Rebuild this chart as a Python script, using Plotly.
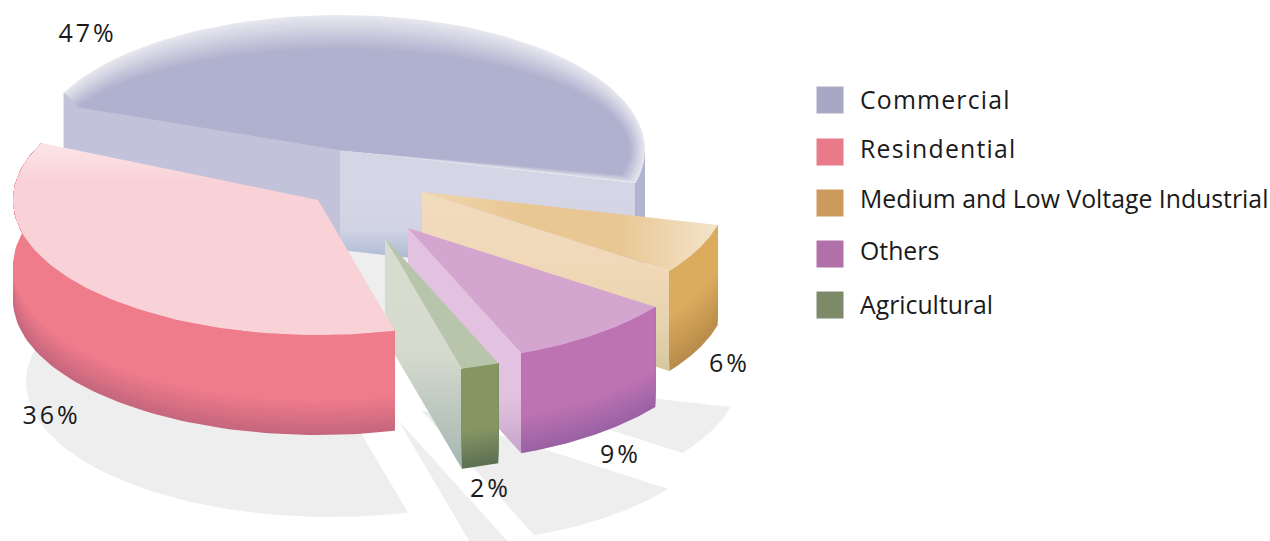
import numpy as np
import plotly.graph_objects as go

# ---------- data ----------
legend_labels = ["Commercial", "Resindential", "Medium and Low Voltage Industrial", "Others", "Agricultural"]
legend_colors = ["#a8a8c5", "#e87a8a", "#cd9a5d", "#b070a8", "#7d8a68"]
clockwise_names = ["Commercial", "Medium and Low Voltage Industrial", "Others", "Agricultural", "Resindential"]
clockwise_values = [47, 6, 9, 2, 36]
pct_labels = ["47%", "36%", "6%", "9%", "2%"]

# ---------- layout constants (pixel-scaled axes) ----------
W, H = 1270, 541
RX, RY, DEPTH = 305, 135, 100
START = 155
SHADOW = (13, 182)
APEX = {"Commercial": (340, 150), "Resindential": (318, 200),
        "Medium and Low Voltage Industrial": (422, 192), "Others": (408, 228), "Agricultural": (385, 238)}
legend_x, text_x = 830, 858
swatch_y = [100, 152, 203, 254, 305]
text_y = [99, 148, 198, 250, 304]
pct_x = [87, 51, 729, 620, 490]
pct_y = [32, 414, 362, 453, 487]
FONT = "Open Sans"

# angular spans derived from the values
spans = {}
a = START
for n, v in zip(clockwise_names, clockwise_values):
    spans[n] = (a, a - v * 3.6)
    a -= v * 3.6


def rim(apex, a0, a1, rx=RX, ry=RY, dy=0):
    t = np.radians(np.linspace(a0, a1, 80))
    return apex[0] + rx * np.cos(t), apex[1] - ry * np.sin(t) + dy


fig = go.Figure()


def poly(x, y, color=None, grad=None, kind="vertical"):
    kw = dict(x=list(x), y=list(y), mode="lines", fill="toself", line=dict(width=0),
              hoverinfo="skip", showlegend=False)
    if grad:
        g = grad[::-1] if kind == "vertical" else grad
        n = len(g) - 1
        kw["fillgradient"] = dict(type=kind, colorscale=[[i / n, c] for i, c in enumerate(g)])
    else:
        kw["fillcolor"] = color
    fig.add_trace(go.Scatter(**kw))


def mix(c0, c1, t):
    p = [int(c0[i:i + 2], 16) for i in (1, 3, 5)]
    q = [int(c1[i:i + 2], 16) for i in (1, 3, 5)]
    return "#%02x%02x%02x" % tuple(round(u + (w - u) * t) for u, w in zip(p, q))


def top(apex, a0, a1, color=None, grad=None, kind="vertical", glow=None, glow_k=0.25):
    if glow:
        steps = 14
        for i in range(steps + 1):
            k = i / steps
            x, y = rim(apex, a0, a1, RX * (1 - 0.05 * k), RY * (1 - glow_k * k))
            poly(np.r_[apex[0], x, apex[0]], np.r_[apex[1], y, apex[1]], mix(glow, color, k))
    else:
        x, y = rim(apex, a0, a1)
        poly(np.r_[apex[0], x, apex[0]], np.r_[apex[1], y, apex[1]], color, grad, kind)


def side_inner(apex, ang, grad):
    x, y = rim(apex, ang, ang)
    xe, ye = x[0], y[0]
    poly([apex[0], xe, xe, apex[0], apex[0]],
         [apex[1], ye, ye + DEPTH, apex[1] + DEPTH, apex[1]], None, grad)


def side_outer(apex, a0, a1, c_main, c_dark, band=34):
    lo, hi = min(a0, a1), max(a0, a1)
    # only the part of the rim below the horizon faces the viewer
    parts = []
    if hi > 180:
        parts.append((max(lo, 180), hi))
    elif hi <= 0:
        parts.append((lo, hi))
    else:
        if lo < 0:
            parts.append((lo, 0))
    for p0, p1 in parts:
        steps = 12
        for i in range(steps + 1):
            d = DEPTH - band * i / steps
            x, y = rim(apex, p0, p1)
            poly(np.r_[x, x[::-1], x[0]], np.r_[y, y[::-1] + d, y[0]], mix(c_dark, c_main, i / steps))


# shadows
for n in clockwise_names:
    ap = (APEX[n][0] + SHADOW[0], APEX[n][1] + SHADOW[1])
    x, y = rim(ap, *spans[n])
    poly(np.r_[ap[0], x, ap[0]], np.r_[ap[1], y, ap[1]], "#eeeeee")

# Commercial
n = "Commercial"; ap = APEX[n]; a0, a1 = spans[n]
side_inner(ap, a0, ["#c2c2da", "#c2c2da", "#c2c2da"])
side_inner(ap, a1, ["#d5d5e6", "#d5d5e6", "#d5d5e6", "#d0d3e3", "#b0bcd4", "#b0bcd4"])
side_outer(ap, a0, a1, "#b3b3d2", "#a9a9ca", band=10)
top(ap, a0, a1, color="#b0b0cf", glow="#e6e6ee")

# Medium and Low Voltage Industrial
n = clockwise_names[1]; ap = APEX[n]; a0, a1 = spans[n]
side_inner(ap, a1, ["#f1dbbd", "#f1dabb", "#efd7b6", "#e5d3ae", "#d4c89f"])
side_outer(ap, a0, a1, "#dcac5e", "#b98d4a", band=55)
top(ap, a0, a1, grad=["#f0d6ae", "#e9c793", "#e9c793", "#f3e4cc"], kind="horizontal")

# Others
n = "Others"; ap = APEX[n]; a0, a1 = spans[n]
side_inner(ap, a1, ["#e2c2e0", "#e2c2e0", "#e2c2e0", "#e2c2e0", "#c6a4c8"])
side_outer(ap, a0, a1, "#bd72b2", "#9a62a4", band=36)
top(ap, a0, a1, color="#d4a6cf")

# Agricultural
n = "Agricultural"; ap = APEX[n]; a0, a1 = spans[n]
side_inner(ap, a1, ["#d8dccf", "#d8dccf", "#d6dace", "#bcc8bf", "#a6b7b0"])
side_outer(ap, a0, a1, "#859663", "#5e7153", band=36)
top(ap, a0, a1, color="#b7c5ab")

# Resindential
n = "Resindential"; ap = APEX[n]; a0, a1 = spans[n]
side_outer(ap, a0, a1, "#ef7c8b", "#c6677e", band=34)
top(ap, a0, a1, grad=["#fbe5e6", "#f9d2d8", "#f9d2d8", "#f9d2d8", "#f9d2d8", "#f9d2d8"])

# legend swatches
fig.add_trace(go.Scatter(x=[legend_x] * 5, y=swatch_y, mode="markers", hoverinfo="skip", showlegend=False,
                         marker=dict(symbol="square", size=27, color=legend_colors, line=dict(width=0))))

annotations = []
for t, yy in zip(legend_labels, text_y):
    annotations.append(dict(x=text_x, y=yy, text=t, xanchor="left", yanchor="middle", showarrow=False,
                            font=dict(family=FONT, size=24.8, color="#1a1a1a")))
for t, xx, yy in zip(pct_labels, pct_x, pct_y):
    annotations.append(dict(x=xx, y=yy, text=t, xanchor="center", yanchor="middle", showarrow=False,
                            font=dict(family=FONT, size=25, color="#1a1a1a")))

fig.update_layout(width=W, height=H, autosize=False, margin=dict(l=0, r=0, t=0, b=0),
                  paper_bgcolor="white", plot_bgcolor="white", annotations=annotations,
                  xaxis=dict(range=[0, W], visible=False, fixedrange=True),
                  yaxis=dict(range=[H, 0], visible=False, fixedrange=True))

post = """
document.body.style.margin = '0';
document.documentElement.style.overflow = 'hidden';
var wide = {'Commercial':1.2,'Resindential':1.2};
document.querySelectorAll('.annotation-text').forEach(function(e){
  var t = e.textContent;
  if (wide[t]) {
    var w0 = e.getComputedTextLength();
    e.style.letterSpacing = wide[t] + 'px';
    var w1 = e.getComputedTextLength();
    e.setAttribute('x', parseFloat(e.getAttribute('x')) + (w1 - w0) / 2);
  }
  if (t.indexOf('%') >= 0) e.style.letterSpacing = '3px';
});
"""
fig.write_html("out.html", post_script=post, config=dict(displayModeBar=False))
